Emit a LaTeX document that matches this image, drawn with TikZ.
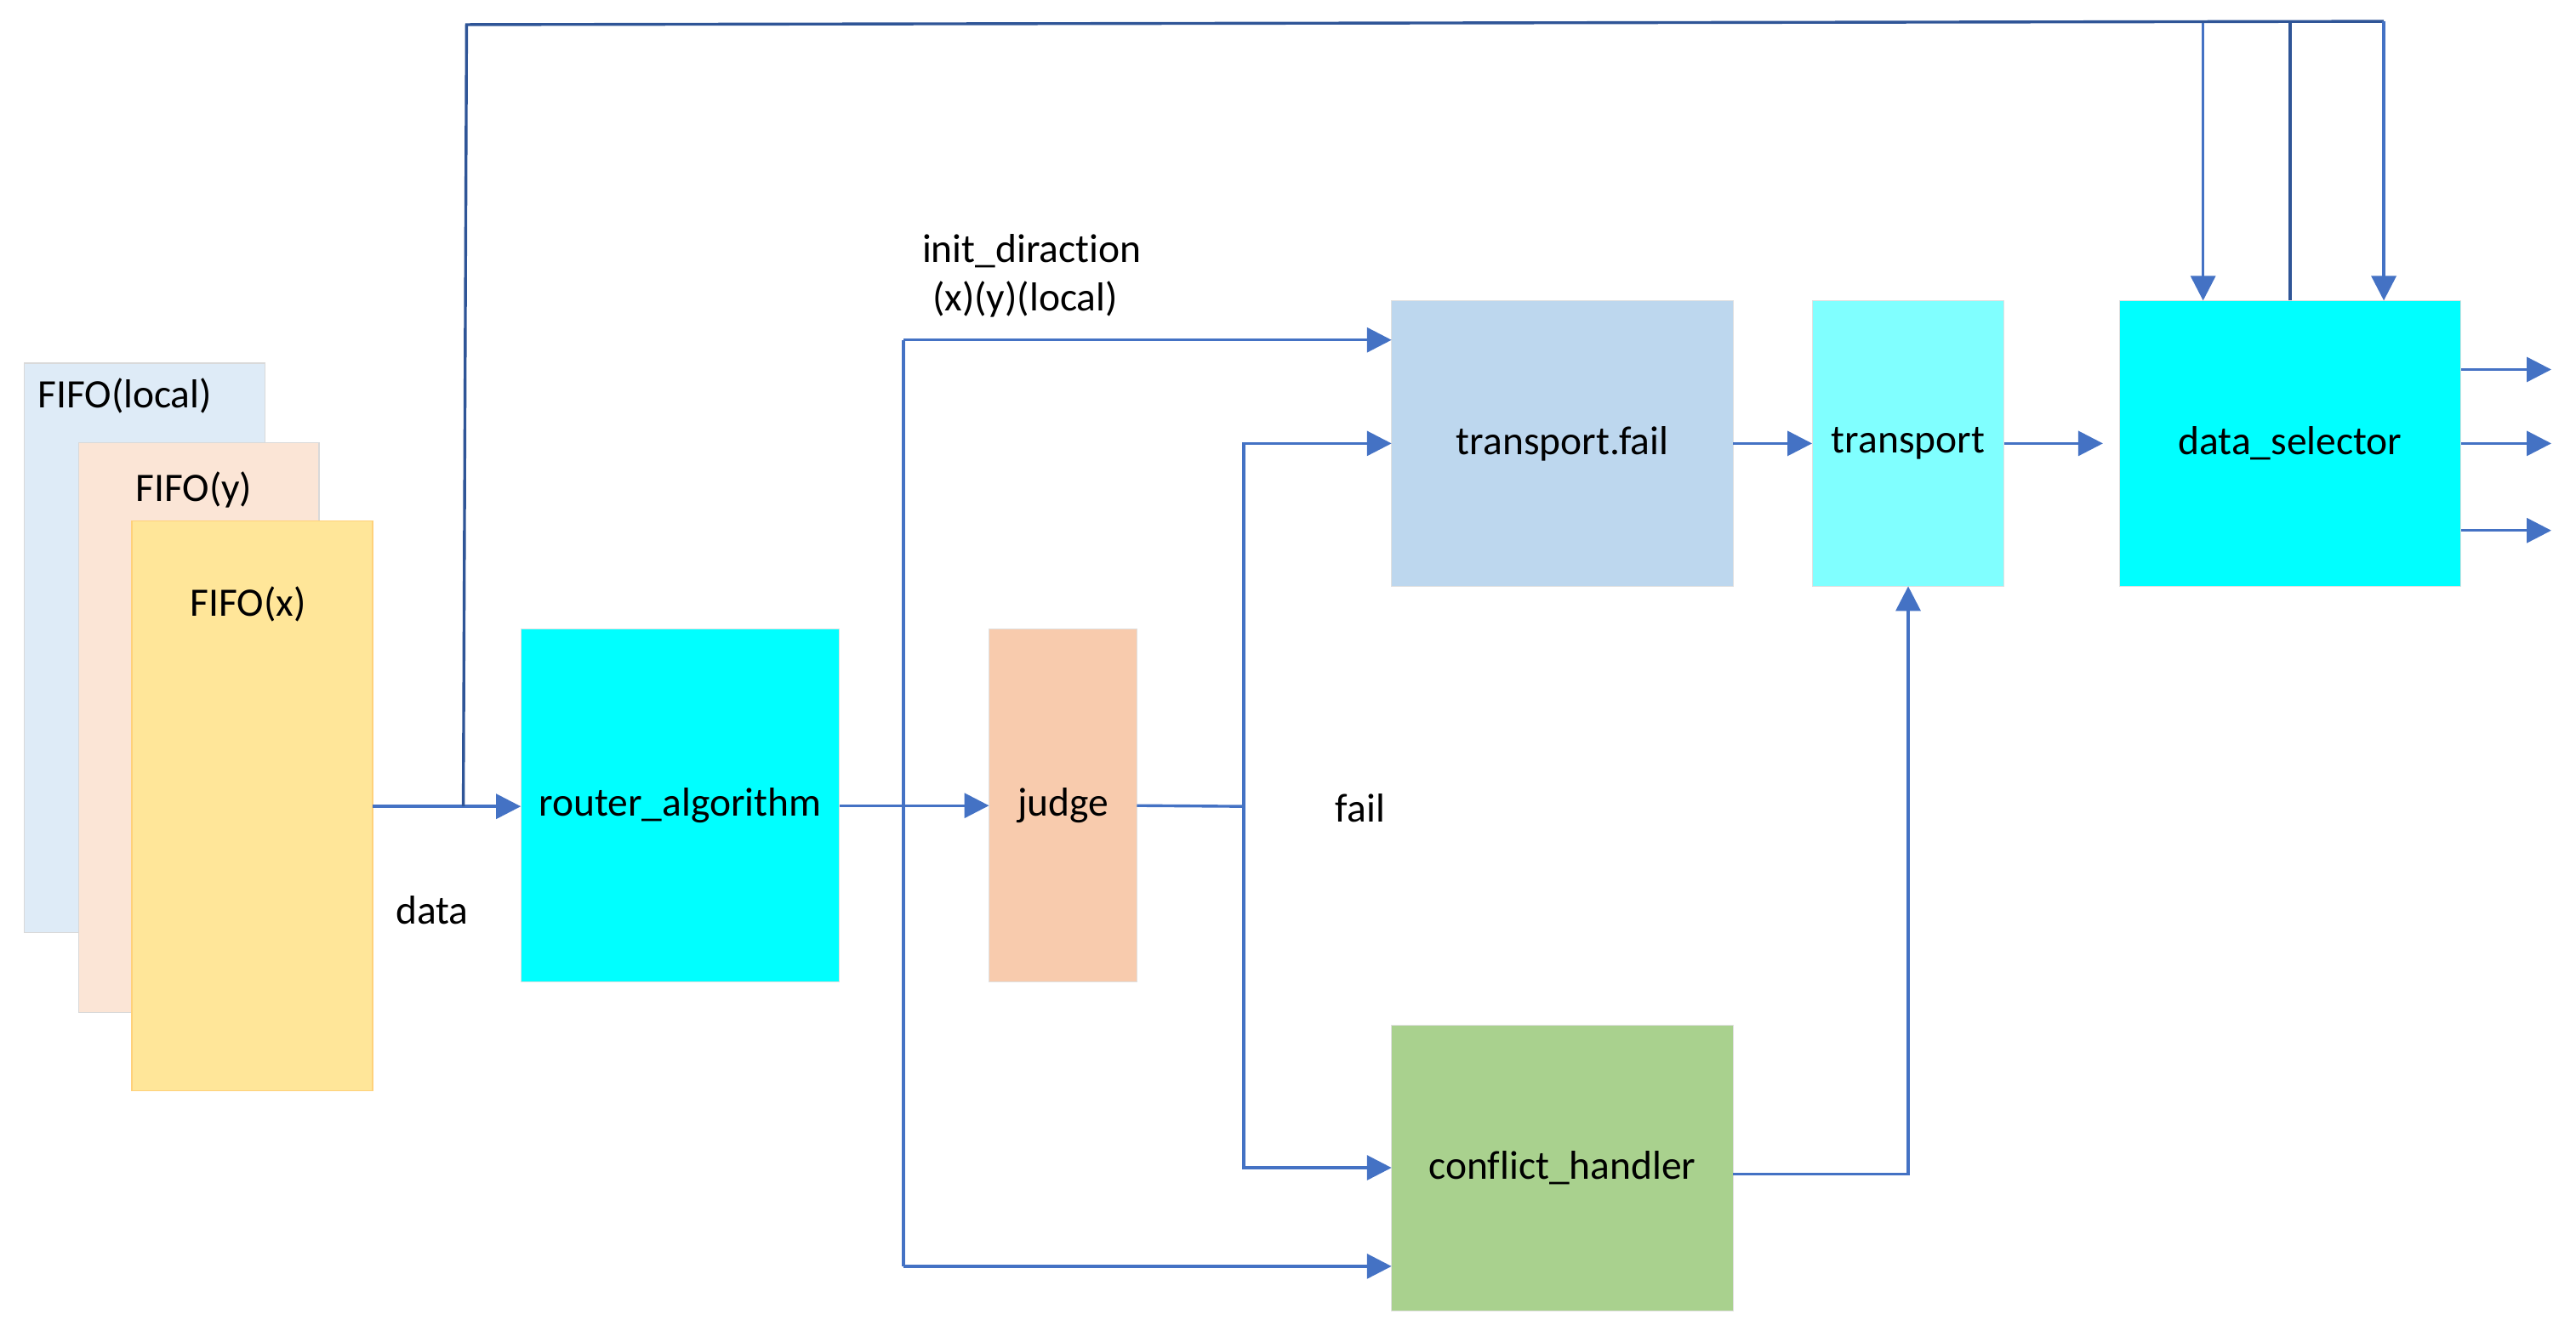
\documentclass[tikz,border=0pt]{standalone}
\usepackage{fontspec}
\setmainfont{Carlito}[Ligatures=NoCommon]
\usepackage{xcolor}
\usetikzlibrary{positioning, arrows.meta, calc}

\definecolor{linkblue}{HTML}{4472C4}
\definecolor{linkdark}{HTML}{2F5597}
\definecolor{purecyan}{HTML}{00FFFF}
\definecolor{fifolocal}{HTML}{DEEBF7}
\definecolor{fifoy}{HTML}{FBE5D6}
\definecolor{fifox}{HTML}{FFE699}
\definecolor{tfailblue}{HTML}{BDD7EE}
\definecolor{transcyan}{HTML}{80FFFF}
\definecolor{judgepeach}{HTML}{F8CBAD}
\definecolor{confgreen}{HTML}{A9D18E}

\begin{document}
\begin{tikzpicture}[
      x=0.02cm, y=-0.02cm,
      % Styling nodes
      base/.style={
        rectangle,
        inner sep=0pt,
        outer sep=0pt,
        align=center,
        font=\fontsize{14}{17}\selectfont
      },
      fifo/.style={base, draw=black!15, line width=0.4pt, minimum width=2.93cm, minimum height=6.94cm},
      block/.style={base, draw=black!12, line width=0.3pt, minimum width=4.16cm, minimum height=3.48cm},
      tall/.style={base, draw=black!12, line width=0.3pt, minimum height=4.3cm},
      txt/.style={font=\fontsize{14}{17}\selectfont, inner sep=0pt},
      wire/.style={draw=linkblue, line width=1pt},
      wiredark/.style={draw=linkdark, line width=1pt},
      arrow/.style={-{Triangle[length=0.3cm,width=0.3cm]}, draw=linkblue, line width=1pt}
    ]
    \useasboundingbox (0,0) rectangle (1568,810);

    % FIFO stack
    \node (flocal) [fifo, fill=fifolocal] at (88,394.5) {};
    \node (fy) [fifo, fill=fifoy] at (121,443) {};
    \node (fx) [fifo, fill=fifox, draw=fifox!80!orange] at (153.5,490.5) {};
    \node (flocaltxt) [txt] at (76,241) {FIFO(local)};
    \node (fytxt) [txt] at (118,298) {FIFO(y)};
    \node (fxtxt) [txt] at (151,368) {FIFO(x)};

    % Main blocks
    \node (router) [tall, fill=purecyan, minimum width=3.88cm] at (414,490.5) {router\_algorithm};
    \node (judge) [tall, fill=judgepeach, minimum width=1.8cm] at (647,490.5) {judge};
    \node (tfail) [block, fill=tfailblue] at (951,270) {transport.fail};
    \node (trans) [block, fill=transcyan, minimum width=2.34cm] at (1161.5,270) {transport};
    \node (sel) [block, fill=purecyan] at (1394,270) {data\_selector};
    \node (conf) [block, fill=confgreen] at (951,711) {conflict\_handler};

    % Labels
    \node (datatxt) [txt] at (263,554) {data};
    \node (failtxt) [txt] at (828,492) {fail};
    \node (inittxt) [txt] at (628,153) {init\_diraction};
    \node (dirtxt) [txt] at (624,182) {(x)(y)(local)};

    % Branch points
    \coordinate (split) at (282,491);
    \coordinate (topL) at (284,15);
    \coordinate (topR) at (1451,13);
    \coordinate (tapA) at (1341,14);
    \coordinate (initTop) at (550,207);
    \coordinate (initBot) at (550,771);
    \coordinate (jsplit) at (757,491);

    % FIFO to router, and the long line over the top
    \draw[arrow] (fx.east |- split) -- (router.west |- split);
    \draw[wiredark] (split) -- (topL) -- (topR);
    \draw[arrow] (tapA) -- (tapA |- sel.north);
    \draw[arrow] (topR) -- (topR |- sel.north);
    \draw[wiredark] (sel.north) -- (sel.north |- tapA);

    % Router to judge, init direction
    \draw[arrow] (router) -- (judge);
    \draw[wire] (initTop) -- (initBot);
    \draw[arrow] (initTop) -- (initTop -| tfail.west);
    \draw[arrow] (initBot) -- (initBot -| conf.west);

    % Judge outputs
    \draw[wire] (judge.east) -- (jsplit);
    \draw[arrow] (jsplit) |- (tfail.west);
    \draw[arrow] (jsplit) |- (conf.west);

    % Right side
    \draw[arrow] (tfail) -- (trans);
    \draw[arrow] (trans.east) -- ([xshift=-0.2cm]sel.west);
    \draw[arrow] ([yshift=-0.08cm]conf.east) -| (trans.south);
    \foreach \dy in {-45,0,53}
      \draw[arrow] ($(sel.east)+(0,\dy)$) -- ++(55,0);

  \end{tikzpicture}
\end{document}
